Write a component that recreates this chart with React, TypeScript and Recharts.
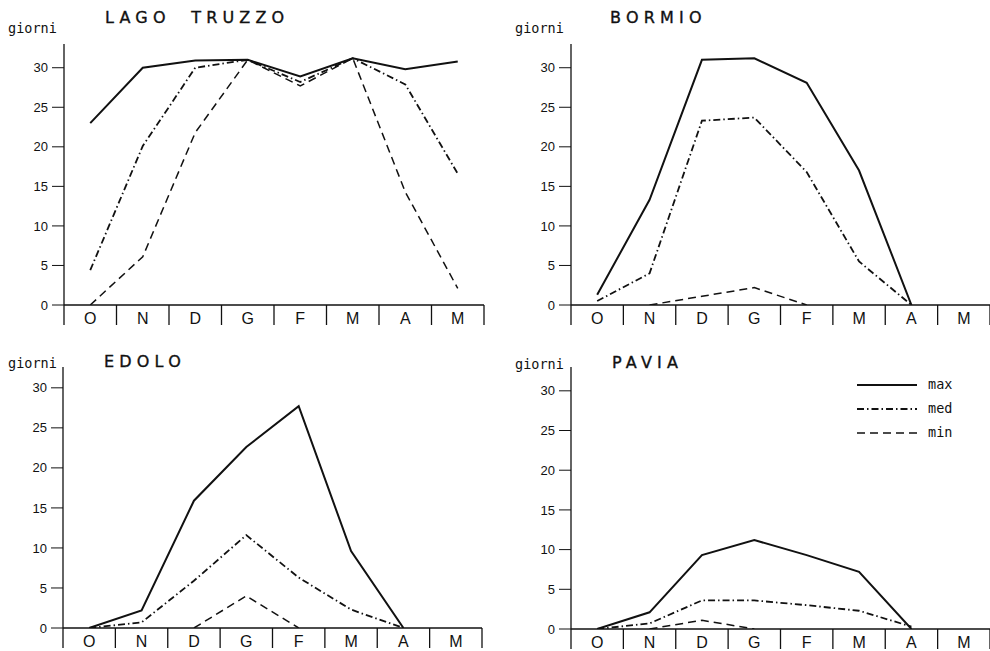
import { LineChart, Line, XAxis, YAxis, Legend } from 'recharts';

// mesi da ottobre a maggio
const MESI = ["O", "N", "D", "G", "F", "M", "A", "M"];
const Y_TICKS = [0, 5, 10, 15, 20, 25, 30];
const SEP_TICKS = [0, 1, 2, 3, 4, 5, 6, 7, 8];
const LABEL_TICKS = [0.5, 1.5, 2.5, 3.5, 4.5, 5.5, 6.5, 7.5];

// giorni di gelo (max / med / min)
const truzzoMax = [23, 30, 30.9, 31, 28.9, 31.2, 29.8, 30.8];
const truzzoMed = [4.4, 20.1, 30, 31, 28.2, 31.2, 27.9, 16.6];
const truzzoMin = [0, 6.1, 21.8, 31, 27.7, 31.2, 14.3, 2.1];

const bormioMax = [1.3, 13.3, 31, 31.2, 28.1, 17, 0, null];
const bormioMed = [0.5, 4, 23.3, 23.7, 16.8, 5.5, 0, null];
const bormioMin = [null, 0, 1.1, 2.2, 0, null, null, null];

const edoloMax = [0, 2.2, 15.9, 22.6, 27.7, 9.6, 0, null];
const edoloMed = [0, 0.7, 5.9, 11.6, 6.3, 2.3, 0, null];
const edoloMin = [null, null, 0, 4, 0, null, null, null];

const paviaMax = [0, 2.1, 9.3, 11.2, 9.3, 7.2, 0, null];
const paviaMed = [0, 0.7, 3.6, 3.6, 3, 2.3, 0.3, null];
const paviaMin = [null, 0, 1.1, 0, null, null, null, null];

const SERIE = [
  { key: "max", width: 2, dash: undefined },
  { key: "med", width: 1.8, dash: "7 3 1.5 3" },
  { key: "min", width: 1.5, dash: "8 5" },
];

const build = (max, med, min) =>
  MESI.map((m, i) => ({ pos: i + 0.5, mese: m, max: max[i], med: med[i], min: min[i] }));

const pannelli = [
  { nome: "LAGO  TRUZZO", data: build(truzzoMax, truzzoMed, truzzoMin), left: 0, top: 0, h: 325, mt: 44, mr: 11, yw: 64, yMax: 33, tx: 105, ty: 23, gx: 8, gy: 33 },
  { nome: "BORMIO", data: build(bormioMax, bormioMed, bormioMin), left: 495, top: 0, h: 325, mt: 44, mr: 0, yw: 76, yMax: 33, tx: 610, ty: 23, gx: 515, gy: 33 },
  { nome: "EDOLO", data: build(edoloMax, edoloMed, edoloMin), left: 0, top: 325, h: 323, mt: 42, mr: 13, yw: 63, yMax: 32.6, tx: 104, ty: 367, gx: 8, gy: 368 },
  { nome: "PAVIA", data: build(paviaMax, paviaMed, paviaMin), left: 495, top: 325, h: 324, mt: 42, mr: 0, yw: 76, yMax: 33, tx: 612, ty: 368, gx: 515, gy: 369, legend: true },
];

const INK = "#111";
const MONO = "'DejaVu Sans Mono', monospace";
const SANS = "'Liberation Sans', Arial, sans-serif";
const PAD_BOTTOM = 8; // spazio sotto le etichette dei mesi

function Legenda() {
  return (
    <svg width={110} height={70}>
      {SERIE.map((s, i) => (
        <g key={s.key}>
          <line x1={0} x2={60} y1={8 + i * 24} y2={8 + i * 24} stroke={INK} strokeWidth={s.width} strokeDasharray={s.dash} />
          <text x={71} y={12 + i * 24} fontFamily={MONO} fontSize={13.5} fill={INK}>{s.key}</text>
        </g>
      ))}
    </svg>
  );
}

function Pannello({ p }) {
  return (
    <div style={{ position: 'absolute', left: p.left, top: p.top }}>
      <LineChart width={495} height={p.h + PAD_BOTTOM} data={p.data} margin={{ top: p.mt, right: p.mr, bottom: PAD_BOTTOM, left: 0 }}>
        <XAxis
          xAxisId="b"
          dataKey="pos"
          type="number"
          domain={[0, 8]}
          ticks={LABEL_TICKS}
          interval={0}
          height={19}
          tickSize={0}
          tickMargin={7}
          axisLine={false}
          tickLine={false}
          tickFormatter={(v) => MESI[Math.floor(v)]}
          tick={{ fill: INK, fontSize: 16, fontFamily: SANS }}
        />
        {/* separatori dei mesi */}
        <XAxis
          xAxisId="a"
          dataKey="pos"
          type="number"
          domain={[0, 8]}
          ticks={SEP_TICKS}
          interval={0}
          height={1}
          tickSize={20}
          axisLine={{ stroke: INK, strokeWidth: 1.3 }}
          tickLine={{ stroke: INK, strokeWidth: 1.3 }}
          tick={() => <g />}
        />
        <YAxis
          width={p.yw}
          domain={[0, p.yMax]}
          ticks={Y_TICKS}
          interval={0}
          allowDataOverflow
          tickSize={12}
          tickMargin={4}
          axisLine={{ stroke: INK, strokeWidth: 1.3 }}
          tickLine={{ stroke: INK, strokeWidth: 1 }}
          tick={{ fill: INK, fontSize: 13, fontFamily: SANS }}
        />
        {SERIE.map((s) => (
          <Line
            key={s.key}
            xAxisId="b"
            dataKey={s.key}
            type="linear"
            stroke={INK}
            strokeWidth={s.width}
            strokeDasharray={s.dash}
            dot={false}
            activeDot={false}
            isAnimationActive={false}
          />
        ))}
        {p.legend && (
          <Legend
            layout="vertical"
            align="center"
            verticalAlign="middle"
            wrapperStyle={{ left: 362, top: 52, width: 110, height: 70 }}
            content={() => <Legenda />}
          />
        )}
      </LineChart>
    </div>
  );
}

export default function App() {
  return (
    <div style={{ position: 'absolute', left: 0, top: 0, width: 990, height: 651, background: '#fff', overflow: 'hidden' }}>
      {pannelli.map((p) => <Pannello key={p.nome} p={p} />)}
      <svg width={990} height={651} style={{ position: 'absolute', left: 0, top: 0, pointerEvents: 'none' }}>
        {pannelli.map((p) => (
          <g key={p.nome}>
            <text x={p.tx} y={p.ty} fontFamily="'DejaVu Sans', sans-serif" fontSize={16} letterSpacing={5.2} fill={INK} stroke={INK} strokeWidth={0.35} style={{ whiteSpace: 'pre' }}>{p.nome}</text>
            <text x={p.gx} y={p.gy} fontFamily={MONO} fontSize={13.5} fill={INK}>giorni</text>
          </g>
        ))}
      </svg>
    </div>
  );
}
